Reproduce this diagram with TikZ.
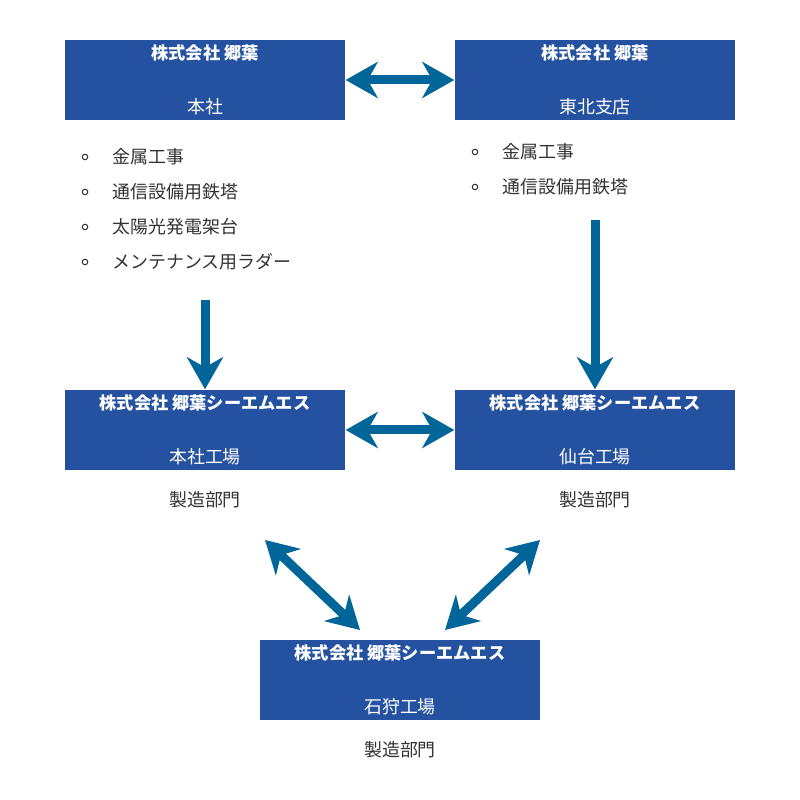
\documentclass[tikz,border=0pt]{standalone}
\usepackage{fontspec}
\setmainfont{Noto Sans CJK JP}
\usetikzlibrary{positioning,arrows.meta}
\definecolor{boxblue}{RGB}{36, 82, 160}
\definecolor{arrowblue}{RGB}{0, 102, 153}
\definecolor{textgray}{RGB}{50, 50, 50}
\newcommand{\boxttl}{\fontsize{4.9}{6}\selectfont\bfseries}
\newcommand{\boxsub}{\fontsize{5.1}{6}\selectfont\mdseries}

\tikzset{
  box/.style={fill=boxblue, minimum width=2.8cm, minimum height=0.8cm, align=center, text=white, inner sep=0pt},
  item/.style={anchor=west, text=textgray, font=\fontsize{5.1}{6}\selectfont, inner sep=0pt},
  dot/.style={circle, draw=textgray, line width=0.3pt, minimum size=0.055cm, inner sep=0pt},
  bigarrow/.style={draw=arrowblue, line width=0.09cm,
    {Stealth[length=0.32cm,width=0.36cm,inset=0.1cm]}-{Stealth[length=0.32cm,width=0.36cm,inset=0.1cm]}},
  onearrow/.style={draw=arrowblue, line width=0.09cm,
    -{Stealth[length=0.32cm,width=0.36cm,inset=0.1cm]}},
}

\begin{document}
\begin{tikzpicture}
  \useasboundingbox (0,0) rectangle (8,8);

  % Boxes
  \node[box] (hq) at (2.05,7.2) {\boxttl 株式会社 郷葉\\[0.12cm]\boxsub 本社};
  \node[box] (tohoku) at (5.95,7.2) {\boxttl 株式会社 郷葉\\[0.12cm]\boxsub 東北支店};
  \node[box] (honsha) at (2.05,3.7) {\boxttl 株式会社 郷葉シーエムエス\\[0.12cm]\boxsub 本社工場};
  \node[box] (sendai) at (5.95,3.7) {\boxttl 株式会社 郷葉シーエムエス\\[0.12cm]\boxsub 仙台工場};
  \node[box] (ishikari) at (4.0,1.2) {\boxttl 株式会社 郷葉シーエムエス\\[0.12cm]\boxsub 石狩工場};

  % Lists
  \foreach \t [count=\i] in {金属工事, 通信設備用鉄塔, 太陽光発電架台, メンテナンス用ラダー} {
    \node[dot] (ld\i) at (0.85,{8-1.57-0.35*(\i-1)}) {};
    \node[item] (li\i) at (1.12,{8-1.57-0.35*(\i-1)}) {\t};
  }
  \foreach \t [count=\i] in {金属工事, 通信設備用鉄塔} {
    \node[dot] (rd\i) at (4.75,{8-1.52-0.35*(\i-1)}) {};
    \node[item] (ri\i) at (5.02,{8-1.52-0.35*(\i-1)}) {\t};
  }

  % Labels
  \node[item, anchor=center] (dep1) at (2.05,3.0) {製造部門};
  \node[item, anchor=center] (dep2) at (5.95,3.0) {製造部門};
  \node[item, anchor=center] (dep3) at (4.0,0.5) {製造部門};

  % Free ends
  \coordinate (lstart) at (2.05,5.0);
  \coordinate (rstart) at (5.95,5.8);
  \coordinate (dl1) at (2.65,2.6);
  \coordinate (dl2) at (3.6,1.7);
  \coordinate (dr1) at (5.4,2.6);
  \coordinate (dr2) at (4.45,1.7);

  % Arrows
  \draw[bigarrow] (hq) -- (tohoku);
  \draw[bigarrow] (honsha) -- (sendai);
  \draw[onearrow] (lstart) -- (honsha);
  \draw[onearrow] (rstart) -- (sendai);
  \draw[bigarrow] (dl1) -- (dl2);
  \draw[bigarrow] (dr1) -- (dr2);
\end{tikzpicture}
\end{document}
